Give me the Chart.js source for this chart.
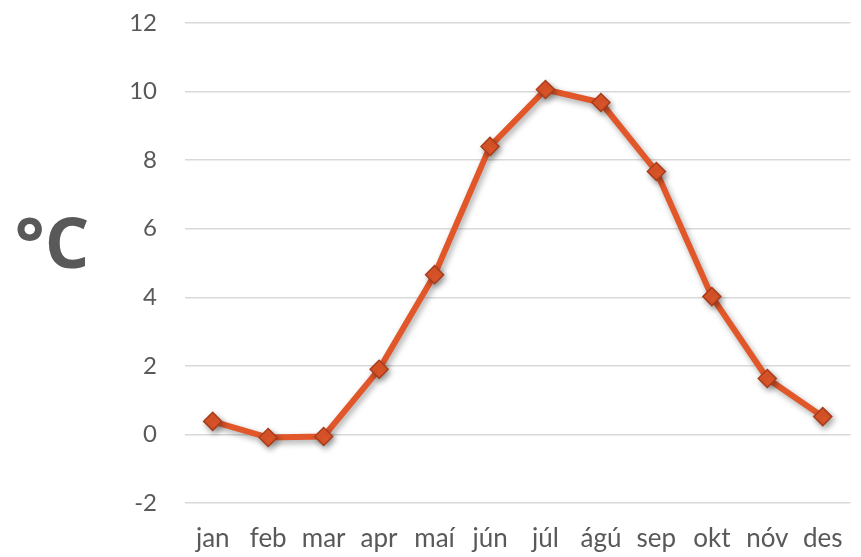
<!DOCTYPE html>
<html>
<head>
<meta charset="utf-8">
<script src="https://cdn.jsdelivr.net/npm/chart.js@4/dist/chart.umd.min.js"></script>
<style>
html,body{margin:0;padding:0;background:#fff;}
#wrap{width:861px;height:557px;position:relative;}
</style>
</head>
<body>
<div id="wrap"><canvas id="c" width="861" height="557"></canvas></div>
<script>
const months = ['jan','feb','mar','apr','maí','jún','júl','ágú','sep','okt','nóv','des'];
const temps = [0.38, -0.09, -0.06, 1.9, 4.66, 8.4, 10.06, 9.68, 7.67, 4.02, 1.63, 0.52];
const yMin = -2, yMax = 12, yStep = 2;
const unitLabel = '°C';

const unitPlugin = {
  id: 'unitLabel',
  afterDraw(chart) {
    const ctx = chart.ctx;
    ctx.save();
    ctx.font = 'bold 70px "Open Sans", sans-serif';
    ctx.fillStyle = '#595959';
    ctx.textAlign = 'center';
    ctx.textBaseline = 'middle';
    ctx.fillText(unitLabel, 52, 248);
    ctx.restore();
  }
};
const shadowPlugin = {
  id: 'shadow',
  beforeDatasetsDraw(chart) {
    const ctx = chart.ctx;
    ctx.save();
    ctx.shadowColor = 'rgba(0,0,0,0.35)';
    ctx.shadowBlur = 6;
    ctx.shadowOffsetX = 2;
    ctx.shadowOffsetY = 3;
  },
  afterDatasetsDraw(chart) {
    chart.ctx.restore();
  }
};

new Chart(document.getElementById('c'), {
  type: 'line',
  data: {
    labels: months,
    datasets: [{
      data: temps,
      borderColor: '#E2572A',
      borderWidth: 6,
      pointStyle: 'rectRot',
      pointRadius: 9,
      pointBackgroundColor: '#E2572A',
      pointBorderColor: '#A93C1A',
      pointBorderWidth: 1.5,
      tension: 0
    }]
  },
  options: {
    responsive: false,
    animation: false,
    layout: { padding: { top: 23, left: 0, right: 0, bottom: 0 } },
    plugins: { legend: { display: false }, tooltip: { enabled: false } },
    scales: {
      x: {
        offset: true,
        afterFit(scale) { scale.height = 54; scale.paddingLeft = 0; scale.paddingRight = 0; },
        grid: { display: false },
        border: { display: false },
        ticks: { color: '#595959', font: { family: 'Lato', size: 26 }, padding: 12, maxRotation: 0, autoSkip: false }
      },
      y: {
        min: yMin, max: yMax,
        afterFit(scale) { scale.width = 185; scale.paddingTop = 0; scale.paddingBottom = 0; },
        grid: { color: '#d9d9d9', lineWidth: 1.5, drawTicks: false },
        border: { display: false },
        ticks: { stepSize: yStep, color: '#595959', font: { family: 'Lato', size: 24 }, padding: 28 }
      }
    }
  },
  plugins: [shadowPlugin, unitPlugin]
});
</script>
</body>
</html>
